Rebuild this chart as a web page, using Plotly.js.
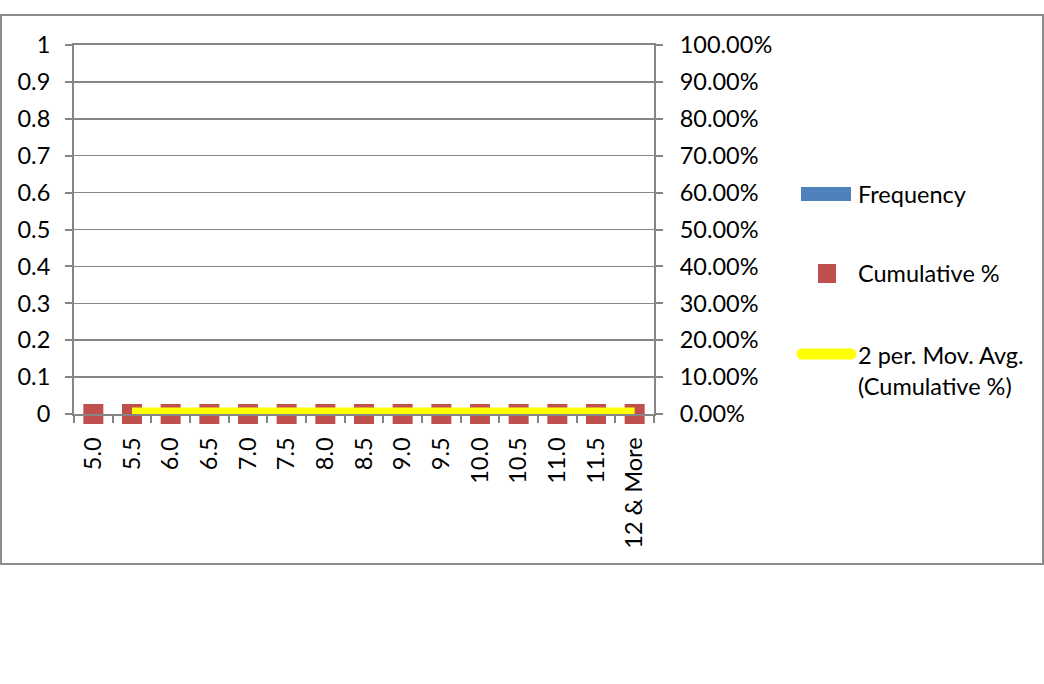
<!DOCTYPE html>
<html>
<head>
<meta charset="utf-8">
<script src="https://cdn.plot.ly/plotly-3.0.1.min.js"></script>
<style>html,body{margin:0;padding:0;background:#fff;}#chart{width:1044px;height:684px;}</style>
</head>
<body>
<div id="chart"></div>
<script>
const categories = ["5.0","5.5","6.0","6.5","7.0","7.5","8.0","8.5","9.0","9.5","10.0","10.5","11.0","11.5","12 & More"];
const frequency = [0,0,0,0,0,0,0,0,0,0,0,0,0,0,0];
const cumulativePct = [0,0,0,0,0,0,0,0,0,0,0,0,0,0,0];
const movAvg = [null,0,0,0,0,0,0,0,0,0,0,0,0,0,0];
const legendLabels = ["Frequency","Cumulative %","2 per. Mov. Avg.<br>(Cumulative %)"];

const W = 1044, H = 684;
const L = 74, R = 654, T = 45, B = 414;
const px = x => (x - L) / (R - L);
const py = y => (B - y) / (B - T);
const FONT = "Lato, 'Open Sans', sans-serif";
const FS = 23.5;
const GRID = "#868686";

const traces = [
  {type:"bar", x:categories, y:frequency, name:legendLabels[0], marker:{color:"#4F81BD"}, showlegend:false, yaxis:"y"},
  {type:"scatter", mode:"markers", x:categories, y:cumulativePct, name:legendLabels[1],
   marker:{symbol:"square", size:20, color:"#C0504D"}, showlegend:false, yaxis:"y2", cliponaxis:false},
  {type:"scatter", mode:"lines", x:categories, y:movAvg, name:legendLabels[2],
   line:{color:"#FFFF00", width:13}, showlegend:false, yaxis:"y2"}
];

const shapes = [
  {type:"rect", xref:"paper", yref:"paper", x0:px(1), x1:px(1043), y0:py(15), y1:py(564),
   line:{color:"#8C8C8C", width:2}, fillcolor:"rgba(0,0,0,0)", layer:"below"},
  {type:"rect", xref:"paper", yref:"paper", x0:px(801), x1:px(851), y0:py(201), y1:py(187),
   line:{width:0}, fillcolor:"#4F81BD"},
  {type:"rect", xref:"paper", yref:"paper", x0:px(818), x1:px(836), y0:py(283), y1:py(264),
   line:{width:0}, fillcolor:"#C0504D"},
  {type:"line", xref:"paper", yref:"paper", x0:px(802), x1:px(851), y0:py(354), y1:py(354),
   line:{color:"#FFFF00", width:11}},
  {type:"circle", xref:"paper", yref:"paper", x0:px(796.5), x1:px(807.5), y0:py(359.5), y1:py(348.5),
   line:{width:0}, fillcolor:"#FFFF00"},
  {type:"circle", xref:"paper", yref:"paper", x0:px(845.5), x1:px(856.5), y0:py(359.5), y1:py(348.5),
   line:{width:0}, fillcolor:"#FFFF00"}
];

const annotations = [
  {xref:"paper", yref:"paper", x:px(856), y:py(194), text:legendLabels[0], showarrow:false, xanchor:"left", yanchor:"middle", align:"left", font:{family:FONT, size:FS, color:"#000"}},
  {xref:"paper", yref:"paper", x:px(856), y:py(273), text:legendLabels[1], showarrow:false, xanchor:"left", yanchor:"middle", align:"left", font:{family:FONT, size:FS, color:"#000"}},
  {xref:"paper", yref:"paper", x:px(856), y:py(370), text:legendLabels[2], showarrow:false, xanchor:"left", yanchor:"middle", align:"left", font:{family:FONT, size:FS, color:"#000"}}
];

const layout = {
  width:W, height:H,
  margin:{l:L, r:W-R, t:T, b:H-B, pad:0},
  paper_bgcolor:"#fff", plot_bgcolor:"#fff",
  font:{family:FONT, size:FS, color:"#000"},
  showlegend:false,
  bargap:0.5,
  xaxis:{type:"category", range:[-0.5, categories.length-0.5], tickangle:-90, showline:true, linecolor:GRID, linewidth:2,
         mirror:true,
         ticks:"outside", ticklen:7, tickcolor:GRID, tickwidth:2, tickson:"boundaries",
         showgrid:false, zeroline:false, ticklabelstandoff:12, fixedrange:true},
  yaxis:{range:[0,1], dtick:0.1, tick0:0, showline:true, linecolor:GRID, linewidth:2,
         ticks:"outside", ticklen:7, tickcolor:GRID, tickwidth:2,
         showgrid:true, gridcolor:GRID, gridwidth:1.5, zeroline:false, ticklabelstandoff:10},
  yaxis2:{range:[0,1], dtick:0.1, tick0:0, overlaying:"y", side:"right", tickformat:".2%",
          showline:true, linecolor:GRID, linewidth:2, ticks:"outside", ticklen:7, tickcolor:GRID, tickwidth:2,
          showgrid:false, zeroline:false, ticklabelstandoff:12},
  shapes:shapes,
  annotations:annotations
};

Plotly.newPlot("chart", traces, layout, {displayModeBar:false, staticPlot:true});
</script>
</body>
</html>
